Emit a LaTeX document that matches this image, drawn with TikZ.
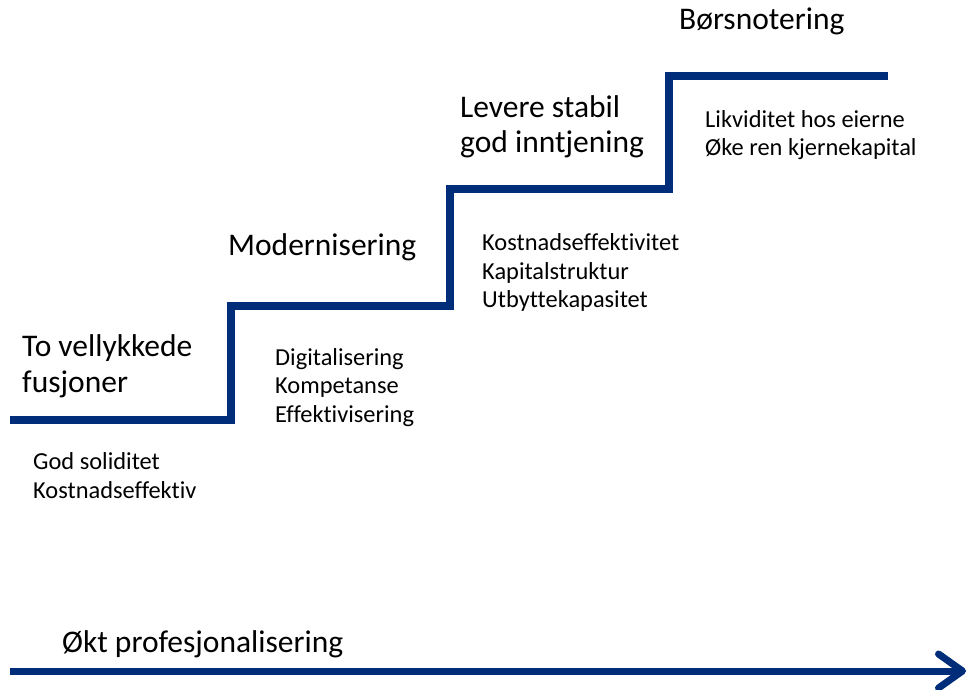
\documentclass[tikz,border=0pt]{standalone}
\usepackage{fontspec}
\setmainfont{Carlito}[Ligatures=CommonOff]
\usetikzlibrary{arrows.meta}

\definecolor{stairblue}{RGB}{0,45,122}

\tikzset{
  stair/.style={draw=stairblue, line width=8pt, line join=miter},
  bigtext/.style={anchor=base west, inner sep=0pt, align=left,
    font=\fontsize{31.5}{35.5}\selectfont},
  smalltext/.style={anchor=base west, inner sep=0pt, align=left,
    font=\fontsize{24.4}{28.5}\selectfont}
}

\begin{document}
\begin{tikzpicture}[x=1pt,y=1pt]

\useasboundingbox (0,0) rectangle (969,689);

%%%%%%%%%%%%%%%%%%%%%%%%%%%%%%%%%%%%%%%%%%%%%%%%%%%%%%%%%%%%
% STAIRCASE
%%%%%%%%%%%%%%%%%%%%%%%%%%%%%%%%%%%%%%%%%%%%%%%%%%%%%%%%%%%%

\coordinate (s0) at (10,269);
\coordinate (s1) at (231,269);
\coordinate (s2) at (231,383);
\coordinate (s3) at (450,383);
\coordinate (s4) at (450,500);
\coordinate (s5) at (669,500);
\coordinate (s6) at (669,613);
\coordinate (s7) at (888,613);

\draw[stair] (s0) -- (s1) -- (s2) -- (s3) -- (s4) -- (s5) -- (s6) -- (s7);

%%%%%%%%%%%%%%%%%%%%%%%%%%%%%%%%%%%%%%%%%%%%%%%%%%%%%%%%%%%%
% Step 1
%%%%%%%%%%%%%%%%%%%%%%%%%%%%%%%%%%%%%%%%%%%%%%%%%%%%%%%%%%%%

% base anchor = baseline of the last line
\node[bigtext](fusjoner) at (22,297)
{To vellykkede\\fusjoner};

\node[smalltext](solid) at (33,191)
{God soliditet\\Kostnadseffektiv};

%%%%%%%%%%%%%%%%%%%%%%%%%%%%%%%%%%%%%%%%%%%%%%%%%%%%%%%%%%%%
% Step 2
%%%%%%%%%%%%%%%%%%%%%%%%%%%%%%%%%%%%%%%%%%%%%%%%%%%%%%%%%%%%

\node[bigtext](modern) at (228,433)
{Modernisering};

\node[smalltext](digital) at (275,267)
{Digitalisering\\Kompetanse\\Effektivisering};

%%%%%%%%%%%%%%%%%%%%%%%%%%%%%%%%%%%%%%%%%%%%%%%%%%%%%%%%%%%%
% Step 3
%%%%%%%%%%%%%%%%%%%%%%%%%%%%%%%%%%%%%%%%%%%%%%%%%%%%%%%%%%%%

\node[bigtext](stabil) at (460,536)
{Levere stabil\\god inntjening};

\node[smalltext](kostnad) at (482,381)
{Kostnadseffektivitet\\Kapitalstruktur\\Utbyttekapasitet};

%%%%%%%%%%%%%%%%%%%%%%%%%%%%%%%%%%%%%%%%%%%%%%%%%%%%%%%%%%%%
% Step 4
%%%%%%%%%%%%%%%%%%%%%%%%%%%%%%%%%%%%%%%%%%%%%%%%%%%%%%%%%%%%

\node[bigtext](bors) at (679,659)
{Børsnotering};

\node[smalltext](likvid) at (705,533)
{Likviditet hos eierne\\Øke ren kjernekapital};

%%%%%%%%%%%%%%%%%%%%%%%%%%%%%%%%%%%%%%%%%%%%%%%%%%%%%%%%%%%%
% Professionalisation arrow
%%%%%%%%%%%%%%%%%%%%%%%%%%%%%%%%%%%%%%%%%%%%%%%%%%%%%%%%%%%%

\node[bigtext](prof) at (62,37)
{Økt profesjonalisering};

\coordinate (a0) at (10,18);
\coordinate (a1) at (966,18);

\draw[stairblue, line width=7pt,
  -{Straight Barb[length=24pt,width=34pt,round]}] (a0) -- (a1);

\end{tikzpicture}
\end{document}
